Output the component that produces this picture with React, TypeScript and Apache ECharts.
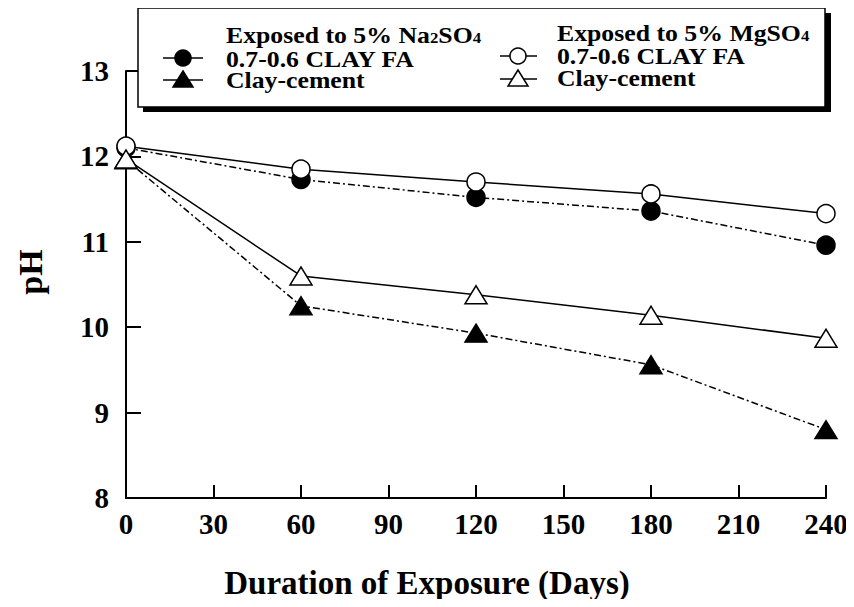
import React, { useEffect, useRef } from "react";
import * as echarts from "echarts";

// Exposure duration (days) and measured pH for each mix / sulfate solution
const days = [0, 60, 120, 180, 240];
const naClayFa = [12.1, 11.73, 11.52, 11.36, 10.96];
const mgClayFa = [12.12, 11.85, 11.7, 11.56, 11.33];
const naClayCement = [11.96, 10.25, 9.93, 9.56, 8.8];
const mgClayCement = [11.97, 10.6, 10.38, 10.14, 9.87];

const xMin = 0;
const xMax = 240;
const xStep = 30;
const yMin = 8;
const yMax = 13;
const yStep = 1;

const FONT = '"Liberation Serif", "Times New Roman", serif';
const DASH_DOT = [7, 3, 2, 3];

const toPoints = (vals: number[]) => days.map((d, i) => [d, vals[i]]);

const LEGEND_Z = 12;

const legendText = (text: string, x: number, y: number) => ({
  type: "text",
  x,
  y,
  z: LEGEND_Z,
  scaleX: 1.12,
  style: {
    text,
    font: `bold 23px ${FONT}`,
    lineHeight: 20,
    fill: "#000",
    align: "left",
    verticalAlign: "middle",
    rich: {
      sub: {
        fontFamily: "Liberation Serif",
        fontWeight: 700,
        fontSize: 15,
        fill: "#000",
        verticalAlign: "bottom",
        lineHeight: 13,
      },
    },
  },
});

const legendLine = (x1: number, x2: number, y: number) => ({
  type: "line",
  z: LEGEND_Z,
  shape: { x1, y1: y, x2, y2: y },
  style: { stroke: "#000", lineWidth: 1.5 },
});

const legendCircle = (cx: number, cy: number, filled: boolean) => ({
  type: "circle",
  z: LEGEND_Z + 1,
  shape: { cx, cy, r: 8 },
  style: { fill: filled ? "#000" : "#fff", stroke: "#000", lineWidth: 1.5 },
});

const legendTriangle = (cx: number, cy: number, filled: boolean) => ({
  type: "polygon",
  z: LEGEND_Z + 1,
  shape: {
    points: [
      [cx, cy - 8],
      [cx + 10, cy + 8],
      [cx - 10, cy + 8],
    ],
  },
  style: { fill: filled ? "#000" : "#fff", stroke: "#000", lineWidth: 1.5 },
});

export default function App() {
  const ref = useRef<HTMLDivElement>(null);

  useEffect(() => {
    if (!ref.current) return;
    const chart = echarts.init(ref.current, null, { renderer: "svg" });

    const seriesBase = (
      name: string,
      vals: number[],
      symbol: string,
      size: number | number[],
      filled: boolean,
      dashed: boolean
    ) => ({
      name,
      type: "line",
      data: toPoints(vals),
      symbol,
      symbolSize: size,
      showAllSymbol: true,
      itemStyle: {
        color: filled ? "#000" : "#fff",
        borderColor: "#000",
        borderWidth: 1.5,
        opacity: 1,
      },
      lineStyle: {
        color: "#000",
        width: 1.5,
        type: dashed ? DASH_DOT : "solid",
      },
      emphasis: { disabled: true },
      z: 3,
    });

    chart.setOption({
      animation: false,
      backgroundColor: "#fff",
      grid: { left: 126, right: 28, top: 71, bottom: 109 },
      xAxis: {
        type: "value",
        min: xMin,
        max: xMax,
        interval: xStep,
        axisLine: { lineStyle: { color: "#000", width: 2 } },
        axisTick: { inside: true, length: 13, lineStyle: { color: "#000", width: 2 } },
        axisLabel: {
          color: "#000",
          fontFamily: FONT,
          fontWeight: "bold",
          fontSize: 29,
          margin: 11,
        },
        splitLine: { show: false },
      },
      yAxis: {
        type: "value",
        min: yMin,
        max: yMax,
        interval: yStep,
        axisLine: { show: true, lineStyle: { color: "#000", width: 2 } },
        axisTick: { show: true, inside: true, length: 15, lineStyle: { color: "#000", width: 2 } },
        axisLabel: {
          color: "#000",
          fontFamily: FONT,
          fontWeight: "bold",
          fontSize: 29,
          margin: 17,
        },
        splitLine: { show: false },
      },
      series: [
        seriesBase("Na2SO4 0.7-0.6 CLAY FA", naClayFa, "circle", 18, true, true),
        seriesBase("Na2SO4 Clay-cement", naClayCement, "triangle", [22, 18], true, true),
        seriesBase("MgSO4 0.7-0.6 CLAY FA", mgClayFa, "circle", 18, false, false),
        seriesBase("MgSO4 Clay-cement", mgClayCement, "triangle", [22, 18], false, false),
      ],
      graphic: [
        // legend box with drop shadow
        {
          type: "rect",
          z: 10,
          shape: { x: 143, y: 13, width: 688, height: 99 },
          style: { fill: "#000" },
        },
        {
          type: "rect",
          z: 11,
          shape: { x: 138, y: 8, width: 687, height: 99 },
          style: { fill: "#fff", stroke: "#000", lineWidth: 1.5 },
        },
        legendText("Exposed to 5% Na{sub|2}SO{sub|4}", 226, 35),
        legendText("0.7-0.6 CLAY FA", 226, 59),
        legendText("Clay-cement", 226, 80),
        legendLine(163, 203, 58),
        legendCircle(183, 58, true),
        legendLine(163, 203, 80),
        legendTriangle(183, 79, true),

        legendText("Exposed to 5% MgSO{sub|4}", 557, 33),
        legendText("0.7-0.6 CLAY FA", 557, 56),
        legendText("Clay-cement", 557, 78),
        legendLine(500, 537, 56),
        legendCircle(518, 56, false),
        legendLine(500, 537, 79),
        legendTriangle(518, 78, false),

        // axis titles
        {
          type: "text",
          x: 30,
          y: 272,
          rotation: Math.PI / 2,
          style: {
            text: "pH",
            font: `bold 34px ${FONT}`,
            fill: "#000",
            align: "center",
            verticalAlign: "middle",
          },
        },
        {
          type: "text",
          x: 427,
          y: 583,
          style: {
            text: "Duration of Exposure (Days)",
            font: `bold 33px ${FONT}`,
            fill: "#000",
            align: "center",
            verticalAlign: "middle",
          },
        },
      ],
    });

    return () => chart.dispose();
  }, []);

  return <div ref={ref} style={{ width: 854, height: 607, margin: -8 }} />;
}
